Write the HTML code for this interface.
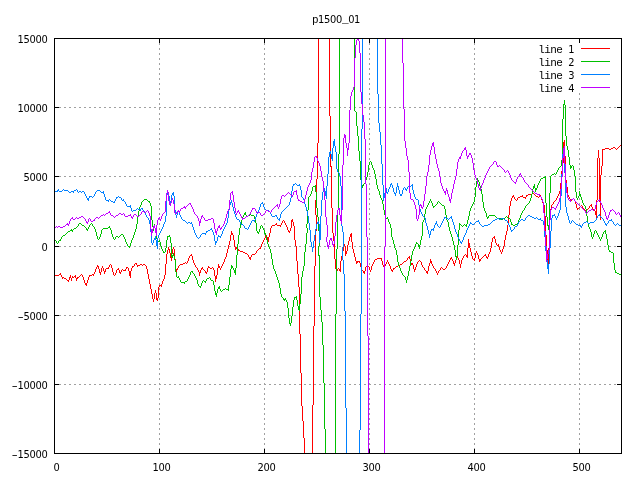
<!DOCTYPE html>
<html><head><meta charset="utf-8"><title>p1500_01</title>
<style>
html,body{margin:0;padding:0;background:#fff;}
svg{display:block;}
text{font-family:"Liberation Mono","DejaVu Sans Mono",monospace;font-size:11px;letter-spacing:-0.6px;fill:#000;white-space:pre;}
.n{font-family:"DejaVu Sans","Liberation Sans",sans-serif;font-stretch:condensed;letter-spacing:-0.29px;}
.g{stroke:#a0a0a0;stroke-width:1;stroke-dasharray:2 3;fill:none;}
.b{stroke:#000;stroke-width:1;fill:none;}
.d{fill:none;stroke-width:1;stroke-linejoin:miter;}
</style></head><body>
<svg width="640" height="480" viewBox="0 0 640 480">
<rect width="640" height="480" fill="#fff"/>
<g class="g" shape-rendering="crispEdges">
<line x1="59" y1="384.5" x2="617" y2="384.5"/>
<line x1="59" y1="315.5" x2="617" y2="315.5"/>
<line x1="59" y1="246.5" x2="617" y2="246.5"/>
<line x1="59" y1="176.5" x2="617" y2="176.5"/>
<line x1="59" y1="107.5" x2="617" y2="107.5"/>
<line x1="159.5" y1="450" x2="159.5" y2="43"/>
<line x1="264.5" y1="450" x2="264.5" y2="43"/>
<line x1="369.5" y1="450" x2="369.5" y2="43"/>
<line x1="474.5" y1="450" x2="474.5" y2="43"/>
<line x1="579.5" y1="450" x2="579.5" y2="93"/>
</g>
<g class="d" shape-rendering="crispEdges">
<path d="M332.5 208V233M175.5 259V269M498.5 244V247M544.5 205V216M299.5 287V334M599.5 158V202M491.5 242V248M314.5 266V326M315.5 200V215M315.5 231V266M330.5 116V167M502.5 249V252M421.5 262V265M547.5 250V260M301.5 373V406M335.5 259V269M313.5 326V405M565.5 156V181M318.5 38V143M215.5 276V282M281.5 223V225M353.5 249V253M303.5 421V438M290.5 228V231M300.5 334V373M75.5 275V278M316.5 179V200M316.5 215V231M331.5 166V208M329.5 38V116M360.5 263V267M467.5 248V258M541.5 197V200M478.5 255V259M270.5 228V233M101.5 268V272M317.5 143V179M342.5 251V257M334.5 241V259M364.5 271V274M471.5 252V256M60.5 273V275M494.5 236V239M158.5 287V298M387.5 260V262M178.5 266V268M560.5 183V191M296.5 246V261M582.5 206V208M340.5 261V272M266.5 235V237M235.5 247V250M575.5 201V204M208.5 266V268M154.5 293V299M409.5 256V259M428.5 266V271M293.5 222V226M602.5 149V166M288.5 230V232M451.5 257V259M454.5 263V266M109.5 265V267M312.5 405V454M333.5 233V241M298.5 274V287M413.5 265V269M289.5 231V233M146.5 266V269M174.5 249V259M345.5 246V256M601.5 166V175M504.5 240V246M470.5 248V252M231.5 231V235M600.5 175V220M546.5 235V250M356.5 261V264M564.5 140V156M509.5 206V215M223.5 262V264M596.5 200V218M597.5 158V200M98.5 266V269M292.5 219V222M249.5 257V259M302.5 406V421M166.5 254V264M386.5 262V264M177.5 268V270M567.5 187V195M93.5 274V276M563.5 142V163M265.5 236V238M513.5 195V197M89.5 275V277M165.5 264V275M489.5 252V254M188.5 258V261M261.5 244V247M116.5 270V273M485.5 254V256M108.5 267V269M549.5 217V248M85.5 283V285M200.5 270V273M172.5 249V254M70.5 275V278M480.5 259V261M446.5 266V268M566.5 180V187M477.5 253V255M304.5 438V454M62.5 277V279M234.5 240V247M503.5 246V249M149.5 279V284M222.5 264V266M550.5 209V217M381.5 258V261M393.5 268V270M508.5 215V225M217.5 268V275M291.5 220V228M268.5 237V242M385.5 264V266M131.5 268V271M500.5 250V252M191.5 254V256M156.5 293V300M287.5 227V230M192.5 256V260M562.5 163V171M343.5 245V251M119.5 270V273M488.5 254V257M280.5 225V227M111.5 265V268M226.5 253V257M195.5 265V267M187.5 261V263M415.5 267V270M198.5 270V272M164.5 275V279M365.5 267V271M344.5 244V246M168.5 247V250M561.5 171V183M169.5 249V253M99.5 269V273M542.5 200V203M134.5 264V266M595.5 211V215M568.5 195V197M230.5 235V241M430.5 259V263M213.5 268V270M130.5 271V278M351.5 233V242M297.5 261V274M129.5 271V276M151.5 289V294M548.5 248V265M457.5 256V258M152.5 294V299M373.5 262V264M460.5 264V268M545.5 216V235M294.5 226V240M347.5 245V251M506.5 231V235M84.5 280V283M468.5 239V248M453.5 261V264M233.5 235V240M148.5 274V279M522.5 195V197M436.5 271V273M437.5 273V275M120.5 272V274M422.5 265V267M372.5 264V266M193.5 260V263M197.5 268V270M551.5 205V209M440.5 268V270M390.5 266V269M463.5 256V258M417.5 262V264M228.5 245V249M598.5 150V158M371.5 266V270M510.5 201V206M86.5 283V286M104.5 271V274M170.5 253V258M147.5 269V274M341.5 256V261M574.5 199V201M238.5 249V251M559.5 191V194M462.5 258V260M349.5 237V241M352.5 242V249M424.5 268V270M416.5 264V267M153.5 299V302M256.5 251V253M363.5 271V273M389.5 264V266M431.5 261V264M382.5 261V265M558.5 194V196M461.5 260V264M355.5 257V261M260.5 247V249M103.5 268V271M96.5 267V269M569.5 197V199M426.5 271V273M225.5 257V259M76.5 278V281M361.5 267V270M479.5 259V262M137.5 265V267M472.5 256V259M95.5 269V272M495.5 239V243M125.5 269V271M113.5 272V275M171.5 254V261M128.5 268V271M514.5 197V199M459.5 260V264M189.5 256V258M447.5 264V266M136.5 263V265M474.5 258V261M269.5 233V237M501.5 252V254M157.5 298V301M112.5 268V272M115.5 273V275M295.5 240V246M199.5 272V276M359.5 261V263M100.5 272V275M543.5 203V205M492.5 238V242M214.5 270V276M284.5 221V223M458.5 258V260M276.5 223V225M487.5 257V259M77.5 277V279M469.5 243V248M576.5 204V208M126.5 267V269M507.5 225V231M264.5 238V240M88.5 277V280M407.5 258V260M354.5 253V257M224.5 259V262M433.5 266V268M391.5 269V271M383.5 265V267M410.5 259V263M448.5 262V264M167.5 250V254M227.5 249V253M82.5 275V277M505.5 235V240M162.5 281V284M589.5 206V208M466.5 255V257M150.5 284V289M577.5 208V210M517.5 198V200M348.5 241V245M176.5 269V272M218.5 264V268M369.5 267V270M221.5 266V268M237.5 246V249M229.5 241V245M263.5 240V242M205.5 271V273M346.5 251V254M72.5 276V278M251.5 255V257M526.5 195V197M94.5 272V274M220.5 268V270M350.5 234V237M216.5 275V279M262.5 242V244M490.5 248V252M201.5 268V270M486.5 256V258M71.5 278V281M102.5 266V268M132.5 266V268M250.5 257V260M525.5 197V199M374.5 260V262M207.5 268V272M427.5 271V274M336.5 269V271M412.5 263V265M173.5 247V249M592.5 207V210M438.5 271V273M339.5 269V271M512.5 196V198M476.5 251V253M69.5 277V280M236.5 247V249M392.5 270V272M286.5 225V227M87.5 280V283M118.5 268V270M511.5 198V201M194.5 263V265M357.5 261V263M475.5 253V258M591.5 204V207M155.5 290V293M429.5 263V266M282.5 221V223M456.5 258V260M83.5 277V280M232.5 233V235M432.5 264V266M435.5 269V271M337.5 269V271M455.5 260V263M105.5 269V272M540.5 195V197M161.5 284V287M219.5 266V268M499.5 247V250M248.5 255V257M206.5 272V274M61.5 275V277M388.5 262V264M267.5 237V240M557.5 196V198M452.5 259V261M414.5 269V272M411.5 263V265M553.5 202V204M159.5 285V287M121.5 270V272M556.5 198V200M285.5 223V225M97.5 265V267M450.5 258V260M370.5 270V272M496.5 243V245M202.5 267V269M449.5 260V262M68.5 280V282M163.5 279V281M271.5 226V228M64 278.5H66M106 268.5H108M210 268.5H212M338 268.5H339M394 268.5H395M434 268.5H435M442 268.5H443M445 268.5H446M283 220.5H284M127 267.5H128M196 267.5H197M209 267.5H210M212 267.5H213M395 267.5H396M423 267.5H424M441 267.5H442M605 148.5H609M611 148.5H613M615 148.5H616M617 148.5H618M110 264.5H111M140 264.5H142M143 264.5H145M180 264.5H183M400 264.5H402M613 147.5H615M618 147.5H619M123 270.5H125M204 270.5H205M362 270.5H363M425 270.5H426M439 270.5H440M239 250.5H240M257 250.5H258M54 275.5H59M80 275.5H81M90 275.5H92M114 275.5H115M59 274.5H60M81 274.5H82M92 274.5H93M240 251.5H243M66 279.5H67M135 263.5H136M183 263.5H185M186 263.5H187M402 263.5H403M621 144.5H622M483 256.5H484M133 266.5H134M366 266.5H369M384 266.5H385M396 266.5H398M515 199.5H516M570 199.5H571M572 199.5H573M375 259.5H377M473 259.5H474M138 265.5H140M142 265.5H143M145 265.5H146M179 265.5H180M398 265.5H400M377 258.5H381M481 258.5H482M620 145.5H621M619 146.5H620M74 276.5H75M79 276.5H80M578 208.5H579M583 208.5H584M588 208.5H589M117 269.5H118M122 269.5H123M203 269.5H204M443 269.5H445M516 200.5H517M555 200.5H556M571 200.5H572M63 277.5H64M73 277.5H74M78 277.5H79M520 196.5H522M536 196.5H538M539 196.5H540M406 260.5H407M419 260.5H420M603 149.5H605M609 149.5H611M616 149.5H617M585 210.5H587M594 210.5H595M584 209.5H585M587 209.5H588M593 209.5H594M552 204.5H553M518 197.5H520M523 197.5H525M538 197.5H539M493 237.5H494M245 253.5H247M255 253.5H256M528 194.5H532M534 194.5H535M190 255.5H191M464 255.5H465M484 255.5H485M358 261.5H359M404 261.5H406M418 261.5H419M420 261.5H421M247 254.5H248M252 254.5H255M465 254.5H466M532 193.5H534M408 257.5H409M482 257.5H483M272 225.5H275M277 225.5H280M67 280.5H68M160 285.5H161M185 262.5H186M403 262.5H404M527 195.5H528M535 195.5H536M258 249.5H259M554 201.5H555M243 252.5H245M581 205.5H582M590 205.5H591M275 224.5H276M573 198.5H574M497 245.5H498M580 206.5H581M259 248.5H260M579 207.5H580" stroke="#ff0000"/>
<path d="M319.5 231V246M319.5 255V297M375.5 174V179M259.5 229V232M277.5 277V280M175.5 260V272M335.5 314V454M615.5 270V273M481.5 189V194M280.5 288V294M325.5 429V454M339.5 38V154M586.5 209V216M563.5 104V119M569.5 157V165M360.5 161V180M178.5 276V278M562.5 119V160M354.5 38V111M565.5 105V136M336.5 249V314M550.5 176V193M357.5 126V136M323.5 345V383M287.5 302V308M270.5 249V253M545.5 176V203M409.5 266V271M537.5 185V188M608.5 245V250M549.5 193V225M126.5 242V244M171.5 243V257M575.5 176V192M568.5 150V157M359.5 151V161M196.5 278V280M215.5 291V295M235.5 268V275M388.5 219V222M255.5 219V223M307.5 210V224M307.5 228V233M321.5 310V322M452.5 237V241M189.5 275V277M150.5 203V206M304.5 252V266M96.5 232V236M391.5 228V237M99.5 237V239M294.5 297V300M455.5 250V257M184.5 282V284M133.5 235V238M367.5 172V177M366.5 177V180M377.5 185V189M605.5 230V234M483.5 202V208M170.5 237V243M607.5 239V245M308.5 197V210M422.5 222V236M445.5 209V215M486.5 213V217M152.5 220V227M324.5 383V429M110.5 228V230M397.5 255V262M593.5 234V237M448.5 222V227M166.5 240V248M239.5 228V235M320.5 297V310M272.5 259V265M137.5 217V224M338.5 154V210M579.5 191V196M231.5 265V269M585.5 206V209M276.5 274V277M356.5 112V126M229.5 277V285M262.5 226V228M475.5 187V197M316.5 192V208M140.5 205V207M151.5 206V220M318.5 217V231M318.5 246V256M444.5 206V209M603.5 232V234M132.5 238V240M459.5 223V230M365.5 180V183M574.5 170V176M429.5 201V203M301.5 277V294M127.5 244V246M322.5 322V345M524.5 208V210M167.5 236V240M433.5 206V208M210.5 278V280M337.5 210V249M383.5 204V210M613.5 253V263M113.5 237V239M165.5 248V252M238.5 235V244M567.5 146V150M458.5 230V245M195.5 276V278M369.5 162V165M214.5 285V291M387.5 217V219M230.5 269V277M289.5 318V324M136.5 224V229M254.5 216V219M376.5 179V185M237.5 244V255M297.5 300V306M511.5 222V225M457.5 245V256M587.5 216V223M176.5 272V277M570.5 165V169M139.5 207V211M474.5 197V202M169.5 235V237M302.5 271V277M306.5 224V228M306.5 233V244M236.5 255V268M288.5 308V318M428.5 203V205M115.5 237V239M358.5 136V151M558.5 168V170M155.5 228V232M157.5 239V242M160.5 242V246M420.5 240V245M190.5 272V275M478.5 180V182M100.5 234V237M519.5 218V220M425.5 209V214M202.5 281V283M300.5 294V304M415.5 244V247M368.5 165V172M407.5 276V280M546.5 203V217M267.5 240V244M86.5 228V230M78.5 224V226M573.5 166V170M256.5 223V231M606.5 234V239M241.5 220V224M305.5 244V252M379.5 191V195M228.5 285V291M292.5 307V316M432.5 203V206M410.5 261V266M598.5 235V237M213.5 281V285M382.5 200V204M566.5 136V146M449.5 227V231M112.5 234V237M291.5 316V323M580.5 194V197M372.5 165V168M518.5 220V223M201.5 283V286M88.5 227V229M402.5 273V275M58.5 241V243M317.5 208V217M548.5 225V230M411.5 255V261M395.5 248V250M234.5 270V273M477.5 178V181M92.5 224V226M87.5 229V231M56.5 241V243M244.5 213V215M529.5 201V203M266.5 236V240M258.5 232V234M600.5 239V241M476.5 181V187M408.5 271V276M401.5 271V273M405.5 277V280M547.5 217V226M243.5 215V217M571.5 166V168M180.5 280V282M293.5 300V307M71.5 229V231M394.5 244V248M233.5 268V270M173.5 253V256M390.5 224V228M454.5 245V250M246.5 215V217M97.5 236V239M264.5 230V234M539.5 181V183M281.5 294V297M153.5 226V231M591.5 232V237M535.5 188V192M161.5 246V249M531.5 194V198M172.5 255V258M311.5 191V194M135.5 229V232M482.5 194V202M473.5 202V204M271.5 253V259M576.5 192V198M216.5 293V297M389.5 222V224M197.5 280V284M453.5 241V245M245.5 212V215M134.5 232V235M299.5 304V311M561.5 160V166M446.5 215V220M522.5 211V213M156.5 232V239M534.5 184V188M273.5 265V269M480.5 186V189M61.5 237V239M298.5 306V310M525.5 206V208M589.5 227V229M592.5 237V239M129.5 246V248M521.5 213V215M533.5 186V189M279.5 283V288M540.5 179V181M286.5 300V302M532.5 189V194M479.5 182V186M101.5 230V234M416.5 242V244M198.5 284V286M257.5 231V233M485.5 211V213M588.5 223V227M380.5 195V198M109.5 226V228M361.5 180V185M447.5 220V222M450.5 231V234M315.5 185V192M470.5 208V211M274.5 269V271M424.5 214V220M260.5 226V229M278.5 280V283M602.5 234V237M123.5 235V237M396.5 250V255M220.5 289V291M609.5 250V252M469.5 211V216M263.5 228V230M530.5 198V201M484.5 208V211M363.5 184V186M557.5 170V172M398.5 262V266M374.5 170V174M163.5 251V253M303.5 266V271M430.5 199V201M596.5 231V233M421.5 236V240M72.5 230V232M362.5 185V188M219.5 286V289M426.5 207V209M384.5 210V215M556.5 172V174M614.5 263V270M94.5 227V229M174.5 256V260M578.5 196V198M467.5 220V224M413.5 249V251M536.5 188V190M581.5 197V200M162.5 249V251M577.5 198V200M412.5 251V255M205.5 281V283M419.5 245V249M89.5 225V227M310.5 194V196M296.5 296V300M284.5 299V301M594.5 231V234M456.5 256V260M138.5 211V217M381.5 198V200M427.5 205V207M468.5 216V220M582.5 200V203M125.5 239V242M472.5 204V206M218.5 287V289M192.5 271V273M520.5 215V218M312.5 187V191M188.5 277V279M141.5 202V205M217.5 289V293M206.5 279V281M275.5 271V274M373.5 168V170M187.5 279V281M393.5 240V244M154.5 224V228M131.5 240V243M285.5 298V300M564.5 100V105M601.5 237V239M130.5 243V246M488.5 216V218M406.5 280V283M392.5 237V240M269.5 247V249M597.5 233V235M240.5 224V228M487.5 217V219M418.5 244V247M95.5 229V232M290.5 323V326M517.5 223V226M200.5 286V288M510.5 219V222M283.5 298V300M159.5 240V242M265.5 233V236M466.5 224V227M437.5 202V204M268.5 244V247M451.5 234V237M400.5 268V271M242.5 217V220M179.5 278V280M232.5 266V268M385.5 215V218M194.5 274V276M378.5 189V191M538.5 183V185M590.5 229V232M111.5 230V234M371.5 162V165M399.5 266V268M583.5 203V205M149.5 201V203M471.5 206V208M60.5 239V241M124.5 237V239M599.5 237V239M423.5 220V222M431.5 201V203M414.5 247V249M158 241.5H159M386 218.5H387M497 218.5H501M503 218.5H505M508 218.5H510M559 167.5H560M313 186.5H315M248 215.5H250M251 215.5H254M489 215.5H495M250 214.5H251M225 288.5H226M541 178.5H543M62 236.5H63M116 236.5H118M119 236.5H120M168 236.5H169M63 235.5H65M120 235.5H121M523 210.5H524M79 223.5H81M91 223.5H92M440 203.5H441M528 203.5H529M501 219.5H503M435 205.5H436M442 205.5H444M526 205.5H527M584 205.5H585M223 289.5H225M226 289.5H228M74 228.5H76M103 228.5H108M364 183.5H365M552 174.5H554M555 174.5H556M55 240.5H56M59 240.5H60M142 201.5H143M148 201.5H149M438 201.5H439M610 251.5H611M81 224.5H82M90 224.5H91M460 224.5H461M464 224.5H465M512 224.5H513M515 224.5H517M436 204.5H437M441 204.5H442M527 204.5H528M65 234.5H66M121 234.5H123M73 229.5H74M102 229.5H103M543 177.5H545M185 281.5H187M204 281.5H205M177 277.5H178M209 277.5H210M619 274.5H621M98 239.5H99M114 239.5H115M181 282.5H184M82 225.5H84M261 225.5H262M461 225.5H462M463 225.5H464M465 225.5H466M513 225.5H515M404 276.5H405M70 230.5H71M595 230.5H596M247 216.5H248M495 216.5H496M506 216.5H507M434 206.5H435M439 202.5H440M207 278.5H209M191 271.5H192M67 232.5H68M193 273.5H194M617 273.5H619M66 233.5H67M403 275.5H404M621 275.5H622M77 226.5H78M84 226.5H85M93 226.5H94M462 226.5H463M203 280.5H204M211 280.5H213M68 231.5H70M604 231.5H605M144 199.5H147M76 227.5H77M85 227.5H86M108 227.5H109M222 290.5H223M164 252.5H165M611 252.5H613M551 175.5H552M355 111.5H356M57 243.5H58M417 243.5H418M496 217.5H497M505 217.5H506M507 217.5H508M143 200.5H144M147 200.5H148M199 286.5H200M616 272.5H617M370 161.5H371M221 291.5H222M128 246.5H129M309 196.5H310M282 297.5H283M295 297.5H296M554 173.5H555M118 237.5H119M572 165.5H573M560 166.5H561" stroke="#00c000"/>
<path d="M165.5 216V222M320.5 216V240M321.5 200V216M552.5 215V218M230.5 202V205M362.5 38V129M359.5 430V454M361.5 129V314M360.5 314V430M213.5 232V235M344.5 274V311M236.5 217V219M560.5 196V210M551.5 218V231M377.5 38V94M562.5 154V174M345.5 311V408M217.5 237V241M540.5 218V220M343.5 232V247M343.5 260V274M248.5 227V229M179.5 212V215M312.5 247V252M544.5 225V237M191.5 222V224M567.5 213V216M559.5 210V213M308.5 216V223M382.5 164V185M319.5 224V243M405.5 188V190M397.5 183V187M104.5 194V197M479.5 222V224M342.5 226V232M342.5 247V260M400.5 194V196M555.5 216V218M419.5 205V209M380.5 132V145M156.5 240V246M340.5 176V186M401.5 194V196M393.5 188V192M301.5 190V197M334.5 139V146M426.5 223V226M164.5 222V224M311.5 242V247M168.5 193V196M429.5 234V238M85.5 194V196M205.5 233V235M332.5 148V161M175.5 210V215M564.5 153V173M550.5 231V248M407.5 187V189M259.5 207V210M379.5 123V132M324.5 188V191M336.5 152V169M155.5 236V240M328.5 157V174M339.5 173V176M392.5 185V188M316.5 224V229M603.5 219V221M151.5 232V243M425.5 218V223M396.5 187V193M597.5 216V218M314.5 235V241M389.5 187V189M381.5 145V164M327.5 174V186M232.5 203V207M212.5 230V232M163.5 224V227M378.5 94V123M546.5 251V260M384.5 193V198M235.5 214V217M509.5 225V227M549.5 248V264M467.5 228V230M144.5 211V213M565.5 173V207M228.5 210V218M543.5 221V225M239.5 220V222M346.5 408V454M178.5 210V212M307.5 211V216M159.5 233V235M414.5 194V197M580.5 225V227M341.5 186V226M455.5 229V232M581.5 226V228M258.5 210V212M196.5 235V237M154.5 238V240M166.5 195V216M103.5 191V194M114.5 201V203M399.5 190V194M558.5 213V216M545.5 237V251M223.5 229V231M395.5 193V196M292.5 186V191M310.5 230V242M335.5 146V152M167.5 191V195M313.5 241V248M218.5 235V237M84.5 192V194M87.5 198V200M171.5 195V201M383.5 185V201M140.5 209V211M466.5 230V233M465.5 233V235M174.5 196V210M326.5 186V199M548.5 264V274M177.5 211V215M158.5 235V238M568.5 216V220M157.5 238V249M561.5 174V196M322.5 192V200M153.5 240V243M89.5 196V198M231.5 200V203M222.5 231V234M507.5 221V223M146.5 215V217M280.5 214V218M303.5 198V200M451.5 216V219M306.5 207V211M413.5 190V194M150.5 224V232M195.5 233V235M108.5 200V202M434.5 225V228M514.5 227V229M547.5 260V269M291.5 191V198M206.5 231V233M180.5 215V217M571.5 221V223M333.5 141V148M433.5 228V231M229.5 205V210M262.5 202V204M263.5 204V207M452.5 219V222M130.5 205V208M227.5 218V223M193.5 227V230M290.5 198V202M418.5 200V205M441.5 223V225M604.5 221V223M596.5 218V220M388.5 189V192M88.5 198V201M566.5 207V213M200.5 235V237M463.5 237V240M421.5 212V214M254.5 220V222M300.5 186V190M249.5 225V227M121.5 198V200M606.5 224V226M214.5 235V241M226.5 223V225M457.5 234V237M105.5 197V200M420.5 209V212M518.5 222V224M299.5 184V186M386.5 188V193M430.5 231V235M123.5 199V201M325.5 191V196M225.5 225V227M309.5 223V230M145.5 213V215M240.5 222V224M456.5 232V234M315.5 229V235M77.5 190V192M125.5 202V204M403.5 188V190M569.5 220V223M436.5 221V224M95.5 192V194M508.5 223V225M192.5 224V227M402.5 190V194M435.5 223V225M94.5 194V196M234.5 211V214M86.5 196V198M431.5 229V231M279.5 218V221M260.5 204V207M317.5 222V224M385.5 189V193M412.5 184V190M169.5 196V201M330.5 151V154M244.5 226V228M525.5 218V220M251.5 221V223M605.5 223V225M233.5 207V211M73.5 191V193M329.5 152V157M58.5 189V191M415.5 197V199M459.5 239V241M440.5 225V227M422.5 214V216M250.5 223V225M293.5 184V186M277.5 217V219M215.5 241V245M323.5 189V192M462.5 240V242M57.5 190V192M611.5 219V221M554.5 214V216M511.5 230V232M170.5 201V203M454.5 225V229M331.5 154V159M318.5 221V224M406.5 189V191M398.5 186V190M458.5 237V239M461.5 242V244M391.5 183V185M394.5 192V194M427.5 226V230M276.5 215V217M116.5 197V199M613.5 222V224M556.5 218V220M468.5 226V228M173.5 192V196M510.5 227V230M305.5 204V207M149.5 220V224M453.5 222V225M582.5 224V226M115.5 199V201M176.5 215V218M224.5 227V229M152.5 243V245M270.5 212V214M216.5 241V243M126.5 204V206M289.5 202V205M428.5 230V234M304.5 200V204M148.5 218V220M470.5 222V224M211.5 228V230M162.5 227V229M443.5 219V221M181.5 217V219M257.5 212V214M390.5 184V187M557.5 216V218M469.5 224V226M161.5 229V231M442.5 221V223M256.5 214V217M221.5 234V236M172.5 193V195M464.5 235V237M194.5 230V233M460.5 241V243M255.5 217V220M220.5 236V238M478.5 220V222M437.5 224V226M444.5 217V219M160.5 231V233M264.5 207V209M131.5 208V211M337.5 169V172M142.5 208V210M271.5 214V216M608.5 221V223M517.5 224V226M281.5 212V214M599.5 214V216M387.5 192V194M133 210.5H136M143 210.5H144M266 210.5H269M283 210.5H284M182 219.5H183M237 219.5H239M278 219.5H279M448 219.5H449M495 219.5H497M499 219.5H501M504 219.5H505M521 219.5H523M538 219.5H540M69 192.5H71M78 192.5H79M81 192.5H82M101 192.5H103M243 225.5H244M481 225.5H482M484 225.5H488M578 225.5H580M615 225.5H616M619 225.5H621M241 224.5H243M472 224.5H474M480 224.5H481M488 224.5H490M576 224.5H578M614 224.5H615M616 224.5H617M618 224.5H619M621 224.5H622M90 196.5H92M93 196.5H94M118 196.5H119M297 185.5H299M411 185.5H412M63 189.5H64M76 189.5H77M183 220.5H185M252 220.5H254M493 220.5H495M505 220.5H507M520 220.5H521M523 220.5H525M541 220.5H543M572 220.5H573M595 220.5H596M609 220.5H611M186 222.5H187M188 222.5H190M475 222.5H476M491 222.5H492M574 222.5H575M584 222.5H586M587 222.5H588M590 222.5H594M245 228.5H247M446 218.5H448M449 218.5H450M497 218.5H499M501 218.5H504M534 218.5H536M537 218.5H538M602 218.5H603M113 202.5H114M275 215.5H276M528 215.5H530M553 215.5H554M598 215.5H599M210 229.5H211M247 229.5H248M432 229.5H433M513 229.5H514M62 190.5H63M64 190.5H68M74 190.5H76M97 190.5H100M132 211.5H133M269 211.5H270M282 211.5H283M54 191.5H57M59 191.5H62M68 191.5H69M71 191.5H73M79 191.5H81M82 191.5H84M96 191.5H97M100 191.5H101M187 223.5H188M190 223.5H191M471 223.5H472M474 223.5H475M490 223.5H491M570 223.5H571M575 223.5H576M583 223.5H584M588 223.5H590M607 223.5H608M617 223.5H618M202 233.5H205M208 230.5H210M512 230.5H513M438 226.5H439M482 226.5H484M515 226.5H517M272 216.5H275M423 216.5H424M527 216.5H528M530 216.5H532M600 216.5H601M147 217.5H148M424 217.5H425M445 217.5H446M450 217.5H451M526 217.5H527M532 217.5H534M536 217.5H537M601 217.5H602M136 209.5H137M138 209.5H140M265 209.5H266M284 209.5H285M404 187.5H405M409 187.5H410M106 200.5H108M110 200.5H111M122 200.5H123M92 197.5H93M117 197.5H118M119 197.5H121M302 197.5H303M127 206.5H130M287 206.5H288M185 221.5H186M476 221.5H478M492 221.5H493M519 221.5H520M573 221.5H574M586 221.5H587M594 221.5H595M612 221.5H613M109 199.5H110M416 199.5H418M408 186.5H409M410 186.5H411M111 201.5H113M124 201.5H125M563 154.5H564M201 234.5H202M439 227.5H440M207 231.5H208M137 208.5H138M141 208.5H142M285 208.5H286M294 184.5H295M296 184.5H297M295 183.5H296M338 172.5H339M197 237.5H198M199 237.5H200M261 203.5H262M198 238.5H199M219 236.5H220M288 205.5H289M286 207.5H287" stroke="#0080ff"/>
<path d="M280.5 199V204M385.5 38V247M384.5 247V454M368.5 336V454M355.5 45V58M218.5 226V228M325.5 200V217M366.5 184V237M149.5 213V216M336.5 215V222M335.5 222V236M455.5 176V180M367.5 237V336M184.5 206V208M364.5 122V139M322.5 177V181M436.5 159V164M562.5 158V177M439.5 171V177M409.5 172V193M429.5 155V165M473.5 163V170M156.5 225V236M485.5 175V178M544.5 213V231M403.5 63V109M349.5 110V143M169.5 201V205M327.5 225V237M327.5 242V247M345.5 135V143M446.5 188V191M428.5 165V172M331.5 238V241M427.5 172V176M406.5 148V156M541.5 197V199M324.5 191V200M317.5 158V161M350.5 96V110M348.5 143V150M419.5 206V215M318.5 161V163M221.5 227V229M354.5 58V87M359.5 41V53M321.5 171V177M217.5 228V231M313.5 162V168M229.5 200V209M216.5 231V235M168.5 192V201M361.5 92V104M466.5 150V156M405.5 141V148M559.5 198V202M172.5 198V200M483.5 180V183M334.5 236V244M232.5 191V195M338.5 208V210M476.5 178V180M308.5 185V187M422.5 207V209M414.5 202V205M224.5 221V224M426.5 176V186M445.5 191V195M551.5 208V210M88.5 219V222M457.5 162V169M564.5 146V164M510.5 175V178M479.5 188V190M449.5 197V201M543.5 202V213M408.5 160V172M360.5 53V92M431.5 146V150M404.5 109V141M418.5 215V219M201.5 216V219M567.5 193V198M343.5 138V165M312.5 168V172M546.5 246V262M194.5 212V214M342.5 165V210M365.5 139V184M323.5 181V191M178.5 210V212M558.5 202V204M453.5 184V189M603.5 208V210M549.5 220V250M521.5 175V177M344.5 134V138M604.5 210V212M133.5 215V217M566.5 183V193M316.5 156V158M307.5 187V191M434.5 147V154M545.5 231V246M563.5 148V158M430.5 150V155M416.5 209V219M550.5 210V220M341.5 210V224M402.5 38V63M456.5 169V176M464.5 148V150M167.5 190V193M296.5 190V195M468.5 155V157M465.5 147V150M460.5 156V159M565.5 164V183M311.5 172V180M227.5 211V214M174.5 204V213M440.5 177V183M155.5 228V233M362.5 104V115M363.5 115V122M561.5 177V189M413.5 200V202M407.5 156V160M346.5 143V148M347.5 148V156M234.5 202V208M319.5 163V166M219.5 225V228M109.5 211V213M70.5 219V221M425.5 186V194M471.5 155V158M166.5 193V201M351.5 92V96M602.5 205V208M150.5 216V229M459.5 157V159M424.5 194V201M165.5 201V212M523.5 178V180M260.5 213V215M451.5 193V199M356.5 40V45M279.5 204V207M314.5 157V162M214.5 223V229M328.5 245V249M305.5 195V199M568.5 198V200M255.5 209V211M609.5 212V215M130.5 214V216M423.5 201V207M339.5 208V215M519.5 174V176M230.5 193V200M220.5 228V230M515.5 182V184M560.5 189V198M202.5 215V217M228.5 209V211M198.5 218V221M326.5 217V225M326.5 237V242M608.5 215V218M555.5 208V210M574.5 199V201M72.5 217V219M353.5 87V90M570.5 200V202M148.5 211V213M469.5 153V155M132.5 217V219M151.5 229V236M90.5 219V221M330.5 238V240M281.5 196V199M204.5 218V220M193.5 209V212M417.5 219V221M486.5 173V175M437.5 164V168M310.5 180V183M595.5 205V209M433.5 142V147M85.5 219V221M548.5 250V254M157.5 220V225M176.5 212V214M477.5 180V184M415.5 205V209M435.5 154V159M489.5 167V169M470.5 153V155M293.5 192V195M271.5 210V212M152.5 229V233M605.5 212V216M87.5 222V224M233.5 195V202M585.5 211V213M438.5 168V171M448.5 194V197M320.5 166V171M215.5 229V233M235.5 208V213M185.5 207V209M352.5 90V92M524.5 180V182M482.5 183V185M337.5 210V215M357.5 38V40M509.5 173V175M340.5 215V221M478.5 184V188M162.5 214V216M444.5 191V193M173.5 200V204M256.5 211V213M131.5 216V218M481.5 185V188M497.5 165V167M161.5 216V219M237.5 211V213M454.5 180V184M556.5 206V208M252.5 208V210M480.5 188V191M488.5 169V171M236.5 213V215M69.5 221V224M462.5 151V153M601.5 203V205M458.5 159V162M333.5 244V247M251.5 210V212M496.5 162V165M277.5 204V207M239.5 212V214M197.5 216V218M304.5 199V202M487.5 171V173M171.5 200V203M297.5 195V199M461.5 153V156M615.5 212V214M452.5 189V193M539.5 194V196M410.5 193V199M528.5 185V187M358.5 38V41M329.5 240V245M250.5 212V214M472.5 158V163M599.5 199V201M606.5 216V219M332.5 241V245M86.5 221V223M238.5 210V212M241.5 216V218M200.5 219V223M226.5 214V218M474.5 170V175M447.5 190V194M493.5 162V164M504.5 170V172M450.5 199V203M191.5 205V207M306.5 191V195M547.5 254V259M180.5 209V211M620.5 215V217M442.5 186V189M213.5 219V223M141.5 212V214M484.5 178V180M110.5 213V215M94.5 219V221M475.5 175V178M421.5 205V208M441.5 183V186M517.5 177V179M223.5 224V226M610.5 210V212M170.5 203V206M557.5 204V206M520.5 173V175M124.5 214V216M516.5 179V182M199.5 221V226M467.5 156V159M298.5 199V201M153.5 226V229M508.5 171V173M160.5 219V221M225.5 218V221M432.5 143V146M240.5 214V216M68.5 224V226M309.5 183V185M159.5 217V219M190.5 203V205M265.5 211V213M600.5 201V203M619.5 213V215M596.5 202V205M158.5 218V220M242.5 218V220M154.5 225V228M292.5 195V197M542.5 199V202M192.5 207V209M420.5 204V206M511.5 178V180M179.5 211V213M278.5 207V209M607.5 218V220M67.5 223V225M443.5 189V191M54 227.5H56M57 227.5H58M60 227.5H63M183 207.5H184M274 207.5H275M552 207.5H554M581 207.5H582M529 187.5H530M512 180.5H513M284 196.5H285M540 196.5H541M101 215.5H103M104 215.5H105M111 215.5H113M116 215.5H118M128 215.5H130M136 215.5H137M139 215.5H140M196 215.5H197M248 215.5H249M261 215.5H263M56 226.5H57M58 226.5H60M63 226.5H65M222 226.5H223M181 208.5H183M253 208.5H255M273 208.5H274M554 208.5H555M582 208.5H583M282 195.5H284M285 195.5H286M291 195.5H292M71 218.5H72M75 218.5H76M77 218.5H79M84 218.5H85M89 218.5H90M95 218.5H96M98 218.5H99M211 218.5H213M243 218.5H245M108 212.5H109M144 212.5H146M164 212.5H165M258 212.5H260M270 212.5H271M587 212.5H588M618 212.5H619M73 219.5H75M208 219.5H211M272 209.5H273M583 209.5H584M591 209.5H593M594 209.5H595M612 209.5H613M189 203.5H190M577 203.5H578M66 224.5H67M142 211.5H144M146 211.5H147M177 211.5H178M268 211.5H270M588 211.5H589M614 211.5H615M530 188.5H531M76 217.5H77M79 217.5H81M83 217.5H84M96 217.5H98M99 217.5H100M114 217.5H115M203 217.5H204M245 217.5H246M621 217.5H622M513 181.5H514M147 210.5H148M266 210.5H268M584 210.5H585M589 210.5H591M593 210.5H594M611 210.5H612M613 210.5H614M93 220.5H94M205 220.5H208M106 213.5H108M119 213.5H121M123 213.5H124M163 213.5H164M175 213.5H176M257 213.5H258M264 213.5H265M586 213.5H587M617 213.5H618M299 200.5H300M569 200.5H570M598 200.5H599M411 199.5H413M571 199.5H573M300 201.5H302M575 201.5H576M597 201.5H598M286 194.5H287M290 194.5H291M537 194.5H539M103 214.5H104M105 214.5H106M118 214.5H119M121 214.5H123M134 214.5H136M140 214.5H141M195 214.5H196M249 214.5H250M263 214.5H264M616 214.5H617M81 216.5H83M100 216.5H101M113 216.5H114M115 216.5H116M125 216.5H128M137 216.5H139M246 216.5H248M527 184.5H528M302 202.5H304M576 202.5H577M91 221.5H93M294 191.5H296M533 191.5H534M494 161.5H496M287 193.5H288M289 193.5H290M535 193.5H537M231 192.5H232M288 192.5H289M534 192.5H535M463 150.5H464M186 206.5H187M275 206.5H276M580 206.5H581M65 225.5H66M188 204.5H189M578 204.5H579M502 168.5H503M522 177.5H523M531 189.5H532M187 205.5H188M276 205.5H277M579 205.5H580M514 182.5H515M525 182.5H526M526 183.5H527M505 172.5H506M490 166.5H491M498 166.5H499M500 166.5H501M491 165.5H492M499 165.5H500M573 198.5H574M492 164.5H493M503 169.5H504M518 176.5H519M501 167.5H502M315 156.5H316M507 170.5H508M506 171.5H507M532 190.5H533" stroke="#c000ff"/>
</g>

<g class="b" shape-rendering="crispEdges">
<rect x="54.5" y="38.5" width="567.0" height="415.0"/>
<line x1="54.5" y1="384.5" x2="59.0" y2="384.5"/><line x1="621.5" y1="384.5" x2="617.0" y2="384.5"/>
<line x1="54.5" y1="315.5" x2="59.0" y2="315.5"/><line x1="621.5" y1="315.5" x2="617.0" y2="315.5"/>
<line x1="54.5" y1="246.5" x2="59.0" y2="246.5"/><line x1="621.5" y1="246.5" x2="617.0" y2="246.5"/>
<line x1="54.5" y1="176.5" x2="59.0" y2="176.5"/><line x1="621.5" y1="176.5" x2="617.0" y2="176.5"/>
<line x1="54.5" y1="107.5" x2="59.0" y2="107.5"/><line x1="621.5" y1="107.5" x2="617.0" y2="107.5"/>
<line x1="159.5" y1="453.5" x2="159.5" y2="449.0"/><line x1="159.5" y1="38.5" x2="159.5" y2="43.0"/>
<line x1="264.5" y1="453.5" x2="264.5" y2="449.0"/><line x1="264.5" y1="38.5" x2="264.5" y2="43.0"/>
<line x1="369.5" y1="453.5" x2="369.5" y2="449.0"/><line x1="369.5" y1="38.5" x2="369.5" y2="43.0"/>
<line x1="474.5" y1="453.5" x2="474.5" y2="449.0"/><line x1="474.5" y1="38.5" x2="474.5" y2="43.0"/>
<line x1="579.5" y1="453.5" x2="579.5" y2="449.0"/><line x1="579.5" y1="38.5" x2="579.5" y2="43.0"/>
</g>
<g style="transform:translateZ(0)">
<text x="9.8" y="458"><tspan textLength="9" lengthAdjust="spacingAndGlyphs">-</tspan><tspan class="n" x="17.5" textLength="30" lengthAdjust="spacingAndGlyphs">15000</tspan></text>
<text x="9.8" y="389"><tspan textLength="9" lengthAdjust="spacingAndGlyphs">-</tspan><tspan class="n" x="17.5" textLength="30" lengthAdjust="spacingAndGlyphs">10000</tspan></text>
<text x="15.8" y="320"><tspan textLength="9" lengthAdjust="spacingAndGlyphs">-</tspan><tspan class="n" x="23.5" textLength="24" lengthAdjust="spacingAndGlyphs">5000</tspan></text>
<text class="n" x="41.5" y="251" textLength="6" lengthAdjust="spacingAndGlyphs">0</text>
<text class="n" x="23.5" y="181" textLength="24" lengthAdjust="spacingAndGlyphs">5000</text>
<text class="n" x="17.5" y="112" textLength="30" lengthAdjust="spacingAndGlyphs">10000</text>
<text class="n" x="17.5" y="43" textLength="30" lengthAdjust="spacingAndGlyphs">15000</text>
<text class="n" x="53.4" y="471" textLength="6" lengthAdjust="spacingAndGlyphs">0</text>
<text class="n" x="152.4" y="471" textLength="18" lengthAdjust="spacingAndGlyphs">100</text>
<text class="n" x="257.4" y="471" textLength="18" lengthAdjust="spacingAndGlyphs">200</text>
<text class="n" x="362.4" y="471" textLength="18" lengthAdjust="spacingAndGlyphs">300</text>
<text class="n" x="467.4" y="471" textLength="18" lengthAdjust="spacingAndGlyphs">400</text>
<text class="n" x="572.4" y="471" textLength="18" lengthAdjust="spacingAndGlyphs">500</text>
<text x="312.1" y="23">p<tspan class="n" textLength="24" lengthAdjust="spacingAndGlyphs">1500</tspan><tspan dy="0.4">_</tspan><tspan class="n" dy="-0.4" textLength="12" lengthAdjust="spacingAndGlyphs">01</tspan></text>
<text x="538.3" y="53">line <tspan class="n" textLength="6" lengthAdjust="spacingAndGlyphs">1</tspan></text>
<line x1="581" y1="48.5" x2="610" y2="48.5" stroke="#ff0000" stroke-width="1" shape-rendering="crispEdges"/>
<text x="538.3" y="66">line <tspan class="n" textLength="6" lengthAdjust="spacingAndGlyphs">2</tspan></text>
<line x1="581" y1="61.5" x2="610" y2="61.5" stroke="#00c000" stroke-width="1" shape-rendering="crispEdges"/>
<text x="538.3" y="79">line <tspan class="n" textLength="6" lengthAdjust="spacingAndGlyphs">3</tspan></text>
<line x1="581" y1="74.5" x2="610" y2="74.5" stroke="#0080ff" stroke-width="1" shape-rendering="crispEdges"/>
<text x="538.3" y="92">line <tspan class="n" textLength="6" lengthAdjust="spacingAndGlyphs">4</tspan></text>
<line x1="581" y1="87.5" x2="610" y2="87.5" stroke="#c000ff" stroke-width="1" shape-rendering="crispEdges"/>
</g>
</svg>
</body></html>
